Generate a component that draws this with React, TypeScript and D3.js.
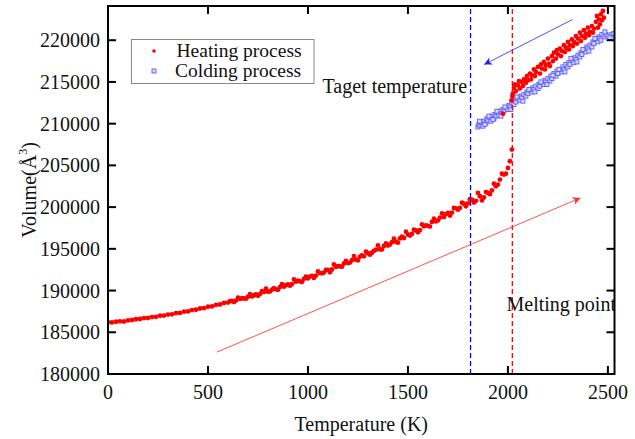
import React from 'react';
import * as d3 from 'd3';

// heating run: [temperature K, volume Å^3]
const heating: [number, number][] = [
  [0, 186200], [20, 186180], [40, 186260], [60, 186310], [80, 186290], [100, 186420],
  [120, 186470], [140, 186560], [160, 186590], [180, 186700], [200, 186710], [220, 186820],
  [240, 186850], [260, 186980], [280, 187000], [300, 187120], [320, 187150], [340, 187300],
  [360, 187320], [380, 187470], [400, 187500], [420, 187660], [440, 187700], [460, 187850],
  [480, 187890], [500, 188060], [520, 188100], [540, 188280], [560, 188330], [580, 188510],
  [600, 188560], [620, 188750], [640, 188800], [660, 189000], [680, 189050], [700, 189260],
  [720, 189300], [740, 189530], [760, 189580], [780, 189820], [800, 189860], [820, 190110],
  [840, 190150], [860, 190420], [880, 190460], [900, 190740], [920, 190780], [940, 191060],
  [960, 191100], [980, 191400], [1000, 191450], [1020, 191750], [1040, 191800], [1060, 192100],
  [1080, 192150], [1100, 192470], [1120, 192520], [1140, 192850], [1160, 192900], [1180, 193240],
  [1200, 193290], [1220, 193640], [1240, 193700], [1260, 194060], [1280, 194100], [1300, 194470],
  [1320, 194530], [1340, 194900], [1360, 194950], [1380, 195340], [1400, 195400], [1420, 195800],
  [1440, 195850], [1460, 196250], [1480, 196300], [1500, 196720], [1520, 196780], [1540, 197200],
  [1560, 197250], [1580, 197700], [1600, 197760], [1620, 198220], [1640, 198280], [1660, 198750],
  [1680, 198800], [1700, 199300], [1720, 199350], [1740, 199850], [1760, 199900], [1780, 200400],
  [1800, 200450], [1820, 200900], [1840, 200750], [1860, 201300], [1880, 201150], [1900, 201700],
  [1920, 202000], [1940, 202500], [1960, 203300], [1980, 203900], [2000, 204700], [2010, 205500],
  [2020, 206900],
  // in-between points, they thicken the band
  [610, 188730], [630, 188620], [650, 189150], [670, 189080], [690, 189030], [710, 189580],
  [730, 189440], [750, 189380], [770, 189920], [790, 190220], [810, 189890], [830, 190280],
  [850, 190090], [870, 190760], [890, 190640], [910, 190590], [930, 191340], [950, 191180],
  [970, 191030], [990, 191670], [1010, 191670], [1030, 191510], [1050, 192290], [1070, 192060],
  [1090, 192480], [1110, 192190], [1130, 193120], [1150, 192910], [1170, 192860], [1190, 193550],
  [1210, 193350], [1230, 194130], [1250, 193610], [1270, 194210], [1290, 194650], [1310, 194300],
  [1330, 194760], [1350, 195410], [1370, 194910], [1390, 195640], [1410, 195520], [1430, 196230],
  [1450, 195740], [1470, 196450], [1490, 197060], [1510, 196590], [1530, 197290], [1550, 196980],
  [1570, 197920], [1590, 197820], [1610, 197670], [1630, 198610], [1650, 198400], [1670, 199240],
  [1690, 199160], [1710, 198990], [1730, 199890], [1750, 199690], [1770, 200530], [1790, 200100],
  [1810, 200950], [1830, 200550], [1850, 201700], [1870, 200800], [1890, 201800], [1910, 201550],
  [1930, 202800], [1950, 202700], [1970, 204000], [1990, 204000],
  // after melting
  [1975, 211200], [2018, 212800], [2022, 213300], [2025, 213600],
  [2030, 214300], [2035, 214700], [2040, 213900], [2050, 214600], [2055, 215100], [2060, 214200],
  [2070, 215000], [2075, 214500], [2080, 215300], [2090, 214900], [2095, 215700], [2100, 215200],
  [2110, 216000], [2115, 215300], [2120, 215800], [2130, 216500], [2135, 215700], [2140, 216200],
  [2150, 216800], [2160, 216000], [2165, 217100], [2170, 216600], [2180, 217400], [2185, 216500],
  [2190, 217000], [2200, 217800], [2205, 217200], [2210, 216900], [2220, 218100], [2225, 217500],
  [2230, 218500], [2240, 217800], [2245, 218800], [2250, 218300], [2260, 219000], [2265, 218100],
  [2270, 218700], [2280, 219400], [2285, 218600], [2290, 219100], [2300, 219800], [2305, 218900],
  [2310, 219400], [2320, 220100], [2325, 219300], [2330, 219800], [2340, 220500], [2345, 219600],
  [2350, 220200], [2360, 220900], [2365, 219900], [2370, 220500], [2380, 221200], [2385, 220300],
  [2390, 220800], [2400, 221500], [2405, 220600], [2410, 221000], [2420, 221700], [2425, 220900],
  [2430, 221400], [2440, 222200], [2445, 222900], [2450, 221500], [2455, 222500], [2460, 221900],
  [2465, 223100], [2470, 222400], [2475, 223500], [2480, 222700],
];

// cooling run
const cooling: [number, number][] = [
  [1850, 209600], [1855, 209900], [1860, 209800], [1865, 210200], [1870, 210000], [1875, 209700],
  [1880, 210300], [1890, 210100], [1895, 210600], [1900, 210400], [1910, 210700], [1915, 210300],
  [1920, 210900], [1930, 210600], [1935, 211100], [1940, 210900], [1950, 211300], [1955, 211000],
  [1960, 211500], [1970, 211200], [1975, 211700], [1980, 211500], [1990, 211900], [2000, 211700],
  [2005, 212200], [2010, 212000], [2020, 212500], [2030, 212300], [2035, 212800], [2040, 212600],
  [2050, 213000], [2060, 212800], [2065, 213300], [2070, 213100], [2080, 213500], [2090, 213300],
  [2095, 213800], [2100, 213600], [2110, 214000], [2120, 213800], [2125, 214300], [2130, 214100],
  [2140, 214500], [2150, 214200], [2155, 214700], [2160, 214500], [2170, 214900], [2180, 214700],
  [2185, 215200], [2190, 215000], [2200, 215400], [2210, 215100], [2215, 215700], [2220, 215400],
  [2230, 216000], [2240, 215700], [2245, 216300], [2250, 216000], [2260, 216500], [2270, 216200],
  [2275, 216800], [2280, 216500], [2290, 217100], [2300, 216800], [2305, 217300], [2310, 217100],
  [2320, 217600], [2330, 217300], [2335, 217900], [2340, 217700], [2350, 218200], [2360, 218000],
  [2365, 218500], [2370, 218300], [2380, 218800], [2390, 218600], [2395, 219200], [2400, 219000],
  [2410, 219400], [2420, 219200], [2425, 219800], [2430, 219600], [2440, 220100], [2450, 219800],
  [2455, 220400], [2460, 220200], [2470, 220700], [2480, 220400], [2490, 220700], [2500, 220500],
  [2520, 220700], [2540, 220400],
  [1858, 210300], [1885, 209900], [1905, 210900], [1925, 210500], [1945, 211500], [1965, 210900],
  [1985, 212000], [2015, 211700], [2045, 213200], [2075, 212700], [2105, 214100], [2135, 213800],
  [2165, 215000], [2195, 214700], [2225, 215800], [2255, 216500], [2285, 216200], [2315, 217800],
  [2345, 217400], [2375, 218900], [2405, 218700], [2435, 220200], [2465, 220000], [2485, 221000],
  [2510, 220300], [2530, 220800],
];

const xTicks = [0, 500, 1000, 1500, 2000, 2500];
const yTicks = [180000, 185000, 190000, 195000, 200000, 205000, 210000, 215000, 220000];

const targetT = 1813;
const meltT = 2022;
// arrows: [[T0, V0], [T1, V1]]
const heatArrow: [number, number][] = [[545, 182630], [2363, 201100]];
const coolArrow: [number, number][] = [[2323, 222480], [1881, 217090]];

const W = 635;
const H = 439;
const margin = { top: 6, right: 20.5, bottom: 65, left: 108 };
const font = '"Liberation Serif", "Times New Roman", serif';
const fs = 20;

export default function App() {
  const x = d3.scaleLinear().domain([0, 2533]).range([margin.left, W - margin.right]);
  const y = d3.scaleLinear().domain([180000, 224100]).range([H - margin.bottom, margin.top]);
  const [x0, x1] = x.range();
  const [y0, y1] = y.range();
  const tick = 8;

  return (
    <svg width={W} height={H} style={{ position: 'absolute', left: 0, top: 0, background: '#fff' }}
      fontFamily={font}>
      <defs>
        <clipPath id="plot">
          <rect x={x0} y={y1} width={x1 - x0} height={y0 - y1} />
        </clipPath>
        <marker id="headRed" viewBox="0 0 10 10" refX="10" refY="5" markerWidth="14" markerHeight="8"
          markerUnits="userSpaceOnUse" orient="auto">
          <path d="M0,0 L10,5 L0,10 L3,5 Z" fill="#ff3030" />
        </marker>
        <marker id="headBlue" viewBox="0 0 10 10" refX="10" refY="5" markerWidth="14" markerHeight="8"
          markerUnits="userSpaceOnUse" orient="auto">
          <path d="M0,0 L10,5 L0,10 L3,5 Z" fill="#2222ee" />
        </marker>
      </defs>

      <g clipPath="url(#plot)">
        {cooling.map((d, i) => (
          <rect key={'c' + i} x={x(d[0]) - 2} y={y(d[1]) - 2} width={4} height={4}
            fill="#d8d8ff" stroke="#5a5aff" strokeWidth={0.9} />
        ))}
        {heating.map((d, i) => (
          <circle key={'h' + i} cx={x(d[0])} cy={y(d[1])} r={2.4} fill="#ff0000" />
        ))}

        <line x1={x(targetT)} x2={x(targetT)} y1={y0} y2={y1} stroke="#0000ff" strokeWidth={1.3}
          strokeDasharray="5,3" />
        <line x1={x(meltT)} x2={x(meltT)} y1={y0} y2={y1} stroke="#ff0000" strokeWidth={1.3}
          strokeDasharray="5,3" />

        <line x1={x(heatArrow[0][0])} y1={y(heatArrow[0][1])} x2={x(heatArrow[1][0])} y2={y(heatArrow[1][1])}
          stroke="#ff5050" strokeWidth={1} markerEnd="url(#headRed)" />
        <line x1={x(coolArrow[0][0])} y1={y(coolArrow[0][1])} x2={x(coolArrow[1][0])} y2={y(coolArrow[1][1])}
          stroke="#5050ff" strokeWidth={1} markerEnd="url(#headBlue)" />

        <text x={322.5} y={93} fontSize={fs} fill="#111">Taget temperature</text>
        <text x={506.5} y={310.5} fontSize={fs} fill="#111">Melting point</text>
      </g>

      {/* frame + inward ticks on all sides */}
      <rect x={x0} y={y1} width={x1 - x0} height={y0 - y1} fill="none" stroke="#000" strokeWidth={2} />
      {xTicks.map(t => (
        <g key={'xt' + t}>
          <line x1={x(t)} x2={x(t)} y1={y0} y2={y0 - tick} stroke="#000" strokeWidth={2} />
          <line x1={x(t)} x2={x(t)} y1={y1} y2={y1 + tick} stroke="#000" strokeWidth={2} />
          <text x={x(t)} y={399} textAnchor="middle" fontSize={fs} fill="#111">{t}</text>
        </g>
      ))}
      {yTicks.map(t => (
        <g key={'yt' + t}>
          <line x1={x0} x2={x0 + tick} y1={y(t)} y2={y(t)} stroke="#000" strokeWidth={2} />
          <line x1={x1} x2={x1 - tick} y1={y(t)} y2={y(t)} stroke="#000" strokeWidth={2} />
          <text x={100} y={y(t)} dy="0.35em" textAnchor="end" fontSize={fs} fill="#111">{t}</text>
        </g>
      ))}

      <text x={(x0 + x1) / 2} y={431} textAnchor="middle" fontSize={fs} fill="#111">Temperature (K)</text>
      <text transform={`translate(36,${(y0 + y1) / 2}) rotate(-90)`} textAnchor="middle" fontSize={fs} fill="#111">
        Volume(Å<tspan fontSize={12} dy={-9}>3</tspan><tspan dy={9}>)</tspan>
      </text>

      {/* legend */}
      <g>
        <rect x={131.5} y={39.5} width={182.5} height={44} fill="#fff" stroke="#888" strokeWidth={1} />
        <circle cx={154} cy={51} r={1.8} fill="#ff0000" />
        <rect x={152} y={69} width={4} height={4} fill="#d8d8ff" stroke="#5a5aff" strokeWidth={0.9} />
        <text x={176.5} y={56.5} fontSize={19.5} fill="#111">Heating process</text>
        <text x={175} y={77} fontSize={19.5} fill="#111">Colding process</text>
      </g>
    </svg>
  );
}
